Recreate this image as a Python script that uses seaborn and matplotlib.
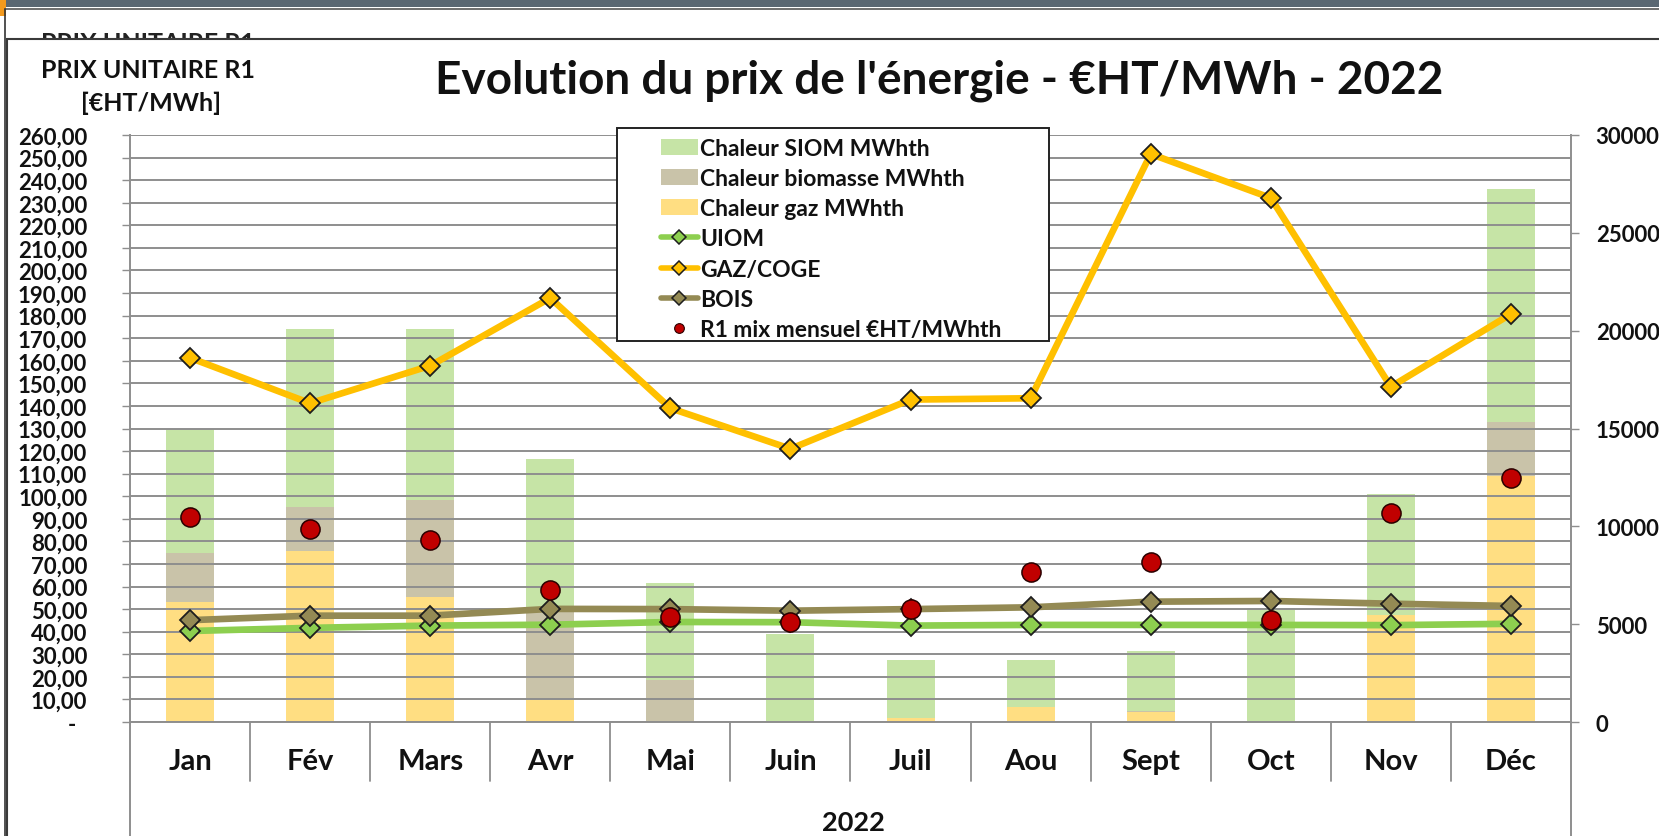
import numpy as np
import pandas as pd
import matplotlib
matplotlib.use("Agg")
import matplotlib.pyplot as plt
import seaborn as sns
from matplotlib.lines import Line2D
from matplotlib.patches import Rectangle, Patch

# ---------------- data ----------------
months = ["Jan", "Fév", "Mars", "Avr", "Mai", "Juin", "Juil", "Aou", "Sept", "Oct", "Nov", "Déc"]
# heat quantities (MWh, right axis)
chaleur_siom = [6320, 9100, 8760, 7830, 4940, 4500, 2970, 2420, 3060, 5760, 6180, 11910]
chaleur_biomasse = [2500, 2250, 4950, 4470, 2090, 0, 0, 0, 50, 35, 0, 2780]
chaleur_gaz = [6150, 8760, 6400, 1140, 60, 0, 210, 750, 500, 35, 5460, 12560]
# unit prices (€HT/MWh, left axis)
uiom = [40.3, 41.7, 42.7, 43.1, 44.3, 44.2, 42.7, 43.0, 43.0, 43.0, 42.9, 43.5]
gaz_coge = [161.3, 141.2, 157.8, 187.8, 139.0, 121.0, 142.8, 143.4, 251.6, 232.1, 148.5, 180.7]
bois = [45.1, 47.1, 47.1, 50.1, 50.0, 49.3, 50.0, 50.8, 53.3, 53.6, 52.4, 51.4]
r1_mix = [90.9, 85.7, 80.4, 58.6, 46.4, 44.2, 50.0, 66.3, 70.8, 45.0, 92.7, 108.0]

left_ticks = [0, 10, 20, 30, 40, 50, 60, 70, 80, 90, 100, 110, 120, 130, 140, 150,
              160, 170, 180, 190, 200, 210, 220, 230, 240, 250, 260]
right_ticks = [0, 5000, 10000, 15000, 20000, 25000, 30000]
legend_labels = ["Chaleur SIOM MWhth", "Chaleur biomasse MWhth", "Chaleur gaz MWhth",
                 "UIOM", "GAZ/COGE", "BOIS", "R1 mix mensuel €HT/MWhth"]
title = "Evolution du prix de l'énergie - €HT/MWh - 2022"
y_title = ["PRIX UNITAIRE R1", "[€HT/MWh]"]
year_label = "2022"

# ---------------- style ----------------
C_SIOM, C_BIO, C_GAZ = "#C6E4A6", "#C9C3A9", "#FFDE82"
C_UIOM, C_COGE, C_BOIS, C_R1 = "#8DCF4F", "#FFC000", "#948A54", "#C00000"
GRID = "#8E8E8E"

sns.set_theme(style="white")
plt.rcParams["font.family"] = ["Lato", "DejaVu Sans"]
plt.rcParams["font.weight"] = "bold"

W, H = 1659, 837
fig = plt.figure(figsize=(W / 100, H / 100), dpi=100, facecolor="white")


def fx(px):
    return px / W


def fy(py):
    return 1 - py / H


# window decorations (screenshot chrome)
fig.add_artist(Rectangle((0, fy(8)), 1, 8 / H, transform=fig.transFigure,
                         fc="#5A6772", ec="none", zorder=-5))
fig.add_artist(Rectangle((0, fy(17)), 6 / W, 17 / H, transform=fig.transFigure,
                         fc="#F39A1E", ec="none", zorder=-4))
fig.add_artist(Line2D([fx(5), 1], [fy(10), fy(10)], transform=fig.transFigure,
                      color="#555555", lw=1.2, zorder=-4))
fig.add_artist(Line2D([fx(4.5), fx(4.5)], [fy(10), 0], transform=fig.transFigure,
                      color="#333333", lw=1.2, zorder=-4))
fig.text(fx(148), fy(32), y_title[0], ha="center", va="top", fontsize=18,
         fontweight="bold", color="#222222", zorder=-3)
fig.add_artist(Rectangle((fx(6.5), -0.05), 1.1, fy(40) + 0.05, transform=fig.transFigure,
                         fc="white", ec="#3A3A3A", lw=1.5, zorder=-2))

# ---------------- axes ----------------
ax_bar = fig.add_axes([fx(130), fy(723), fx(1571) - fx(130), fy(136) - fy(723)])
ax_bar.set_facecolor("white")

df = pd.DataFrame({"mois": months, "siom": chaleur_siom,
                   "bio": chaleur_biomasse, "gaz": chaleur_gaz})
df["top_siom"] = df["gaz"] + df["bio"] + df["siom"]
df["top_bio"] = df["gaz"] + df["bio"]

for col, c in [("top_siom", C_SIOM), ("top_bio", C_BIO), ("gaz", C_GAZ)]:
    sns.barplot(data=df, x="mois", y=col, order=months, color=c, saturation=1,
                width=0.4, errorbar=None, linewidth=0, ax=ax_bar)

ax_line = ax_bar.twinx()
ax_bar.yaxis.tick_right()
ax_line.yaxis.tick_left()
ax_line.yaxis.set_label_position("left")

ax_bar.set_ylim(0, 30000)
ax_line.set_ylim(0, 260)
ax_bar.set_xlim(-0.5, 11.5)

xpos = np.arange(len(months))
lw = 4.8
for vals, c in [(uiom, C_UIOM), (gaz_coge, C_COGE), (bois, C_BOIS)]:
    sns.lineplot(x=xpos, y=vals, ax=ax_line, color=c, linewidth=lw, marker="D",
                 markersize=10.5, markerfacecolor=c, markeredgecolor="#1E1E1E",
                 markeredgewidth=1.3, zorder=3, sort=False)
sns.scatterplot(x=xpos, y=r1_mix, ax=ax_line, s=190, color=C_R1,
                edgecolor="#2A0000", linewidth=1.1, zorder=5)

# grid + ticks
ax_line.set_yticks(left_ticks)
ax_line.set_yticklabels(["-  " if v == 0 else f"{v:.2f}".replace(".", ",") for v in left_ticks])
ax_line.grid(axis="y", color=GRID, lw=1.4)
ax_line.grid(axis="x", visible=False)
ax_line.set_axisbelow(True)
ax_line.tick_params(axis="y", direction="out", length=5.8, width=1.0, color=GRID,
                    pad=25, labelsize=16, labelcolor="#111111")
ax_bar.grid(False)
ax_bar.set_yticks(right_ticks)
ax_bar.set_yticklabels([str(v) for v in right_ticks])
ax_bar.tick_params(axis="y", direction="out", length=5.8, width=1.0, color=GRID,
                   pad=12, labelsize=16, labelcolor="#111111")
for lab in ax_bar.get_yticklabels() + ax_line.get_yticklabels():
    lab.set_fontweight("bold")

ax_bar.set_xticks(xpos)
ax_bar.set_xticklabels(months, fontsize=21, fontweight="bold", color="#111111")
ax_bar.tick_params(axis="x", length=0, pad=19)
ax_bar.set_xlabel("")
ax_bar.set_ylabel("")
ax_line.set_xlabel("")
ax_line.set_ylabel("")

for s in ax_bar.spines.values():
    s.set_visible(False)
for name, s in ax_line.spines.items():
    s.set_visible(name in ("left", "right", "bottom"))
    s.set_color(GRID)
    s.set_linewidth(1.4)

# category separators (multi-level axis)
tr = ax_bar.get_xaxis_transform()
for k in range(1, len(months)):
    ax_bar.plot([k - 0.5, k - 0.5], [0, -0.1], transform=tr, color=GRID, lw=1.3,
                clip_on=False)
for xb in (-0.5, len(months) - 0.5):
    ax_bar.plot([xb, xb], [0, -0.3], transform=tr, color=GRID, lw=1.4, clip_on=False)

# titles
fig.text(fx(939), fy(81), title, ha="center", va="center", fontsize=33,
         fontweight="bold", color="#111111")
fig.text(fx(148), fy(71), y_title[0], ha="center", va="center", fontsize=18,
         fontweight="bold", color="#111111")
fig.text(fx(151), fy(103), y_title[1], ha="center", va="center", fontsize=18,
         fontweight="bold", color="#111111")
fig.text(fx(853), fy(823), year_label, ha="center", va="center", fontsize=19.5,
         fontweight="bold", color="#111111")

# legend
fig.add_artist(Rectangle((fx(617), fy(342)), fx(1049) - fx(617), fy(129) - fy(342),
                         transform=fig.transFigure, fc="white", ec="#222222", lw=1.4,
                         zorder=2))
handles = [Patch(fc=C_SIOM, ec="none"), Patch(fc=C_BIO, ec="none"), Patch(fc=C_GAZ, ec="none")]
for c in (C_UIOM, C_COGE, C_BOIS):
    handles.append(Line2D([], [], color=c, lw=4, marker="D", markersize=7,
                          markerfacecolor=c, markeredgecolor="#1E1E1E", markeredgewidth=1.1))
handles.append(Line2D([], [], ls="none", marker="o", markersize=7,
                      markerfacecolor=C_R1, markeredgecolor="#2A0000", markeredgewidth=0.8))
leg = fig.legend(handles, legend_labels, loc="upper left",
                 bbox_to_anchor=(fx(661), fy(139)), frameon=False,
                 prop={"family": ["Lato", "DejaVu Sans"], "weight": "bold", "size": 16.5},
                 handlelength=1.6, handleheight=0.7, handletextpad=0.12,
                 labelspacing=0.4, borderpad=0, borderaxespad=0)
leg.set_zorder(3)
for t in leg.get_texts():
    t.set_color("#111111")

fig.savefig("out.png", dpi=100, facecolor="white")
